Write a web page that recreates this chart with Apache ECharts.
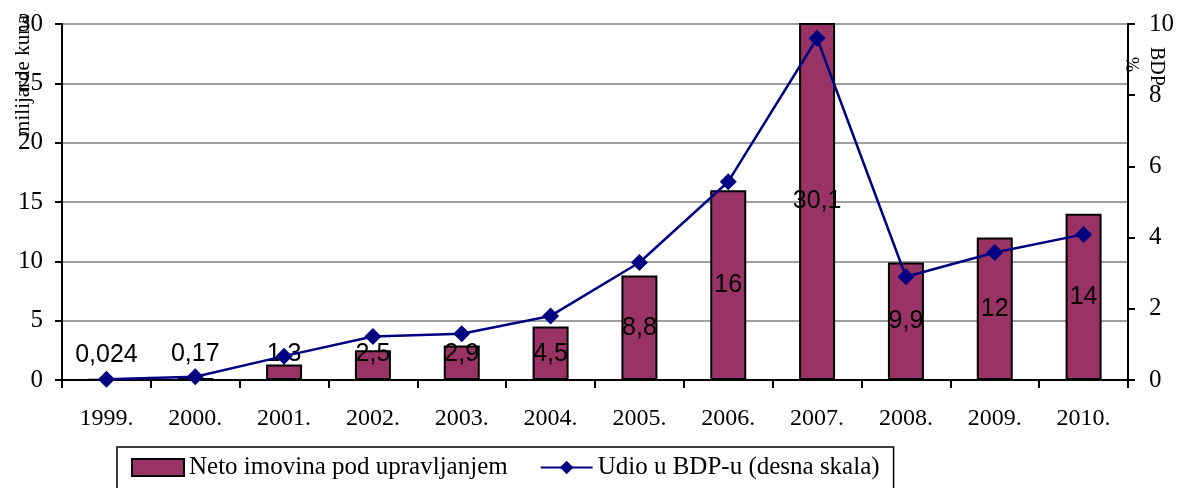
<!DOCTYPE html>
<html>
<head>
<meta charset="utf-8">
<script src="https://cdn.jsdelivr.net/npm/echarts@6/dist/echarts.min.js"></script>
<style>
  html, body { margin: 0; padding: 0; background: #fff; }
  #chartBox { width: 1183px; height: 488px; }
</style>
</head>
<body>
<div id="chartBox"></div>
<script>
const years = ["1999.", "2000.", "2001.", "2002.", "2003.", "2004.", "2005.", "2006.", "2007.", "2008.", "2009.", "2010."];
const netAssets = [0.024, 0.17, 1.3, 2.5, 2.9, 4.5, 8.8, 16, 30.1, 9.9, 12, 14];
const gdpShare = [0.02, 0.09, 0.67, 1.22, 1.3, 1.8, 3.3, 5.57, 9.6, 2.9, 3.58, 4.09];

const serif = "'Liberation Serif', 'Times New Roman', serif";
const sans = "'Liberation Sans', Arial, sans-serif";

const chartDom = document.getElementById("chartBox");
const myChart = echarts.init(chartDom);

const barData = netAssets.map(function (v) {
  // small bars: keep label above the axis line
  if (v < 5) {
    return { value: v, label: { position: "insideBottom", distance: 13 } };
  }
  return v;
});

const option = {
  animation: false,
  grid: { left: 62, right: 55, top: 24, bottom: 108 },
  legend: {
    left: 117,
    top: 447,
    padding: [8, 14, 12, 14],
    itemGap: 32,
    itemWidth: 52,
    itemHeight: 17,
    borderColor: "#000",
    borderWidth: 1.5,
    textStyle: { fontFamily: serif, fontSize: 25, color: "#000" },
    data: [
      { name: "Neto imovina pod upravljanjem", icon: "rect", itemStyle: { borderColor: "#000", borderWidth: 2 } },
      { name: "Udio u BDP-u (desna skala)" },
    ],
  },
  graphic: [
    {
      type: "text",
      left: 13,
      top: 15,
      rotation: Math.PI / 2,
      style: { text: "milijarde kuna", font: "21px " + serif, fill: "#000" },
    },
    {
      type: "text",
      left: 1122,
      top: 57,
      rotation: -Math.PI / 2,
      style: { text: "%", font: "18px " + serif, fill: "#000" },
    },
    {
      type: "text",
      left: 1146,
      top: 47,
      rotation: -Math.PI / 2,
      style: { text: "BDP", font: "20px " + serif, fill: "#000" },
    },
  ],
  xAxis: {
    type: "category",
    data: years,
    boundaryGap: true,
    axisLine: { lineStyle: { color: "#000", width: 2 } },
    axisTick: { show: true, length: 8, lineStyle: { color: "#000", width: 2 } },
    axisLabel: { fontFamily: serif, fontSize: 24, color: "#000", margin: 27 },
  },
  yAxis: [
    {
      type: "value",
      min: 0,
      max: 30,
      interval: 5,
      axisLine: { show: true, lineStyle: { color: "#000", width: 2 } },
      axisTick: { show: true, length: 7, lineStyle: { color: "#000", width: 2 } },
      axisLabel: { fontFamily: serif, fontSize: 25, color: "#000", margin: 19 },
      splitLine: { show: true, lineStyle: { color: "#808080", width: 1.5 } },
    },
    {
      type: "value",
      min: 0,
      max: 10,
      interval: 2,
      position: "right",
      axisLine: { show: true, lineStyle: { color: "#000", width: 2 } },
      axisTick: { show: true, length: 7, lineStyle: { color: "#000", width: 2 } },
      axisLabel: { fontFamily: serif, fontSize: 25, color: "#000", margin: 21 },
      splitLine: { show: false },
    },
  ],
  series: [
    {
      name: "Neto imovina pod upravljanjem",
      type: "bar",
      barWidth: 36,
      data: barData,
      itemStyle: { color: "#993366", borderColor: "#000", borderWidth: 2 },
      label: {
        show: true,
        position: "inside",
        fontFamily: sans,
        fontSize: 25,
        color: "#000",
        formatter: function (p) {
          return String(p.value).replace(".", ",");
        },
      },
      z: 2,
    },
    {
      name: "Udio u BDP-u (desna skala)",
      type: "line",
      yAxisIndex: 1,
      data: gdpShare,
      symbol: "diamond",
      symbolSize: 17,
      lineStyle: { color: "#000080", width: 2.5 },
      itemStyle: { color: "#000080" },
      z: 3,
    },
  ],
};

myChart.setOption(option);
</script>
</body>
</html>
